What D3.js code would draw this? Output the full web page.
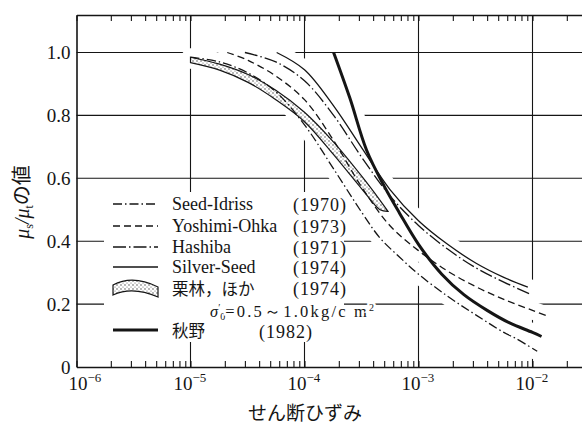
<!DOCTYPE html>
<html><head><meta charset="utf-8">
<script src="https://cdn.jsdelivr.net/npm/d3@7"></script>
<style>
html,body{margin:0;padding:0;background:#fff;}
svg{display:block;}
</style></head>
<body>
<svg id="chart" width="582" height="427"></svg>
<script>
// Shear modulus ratio μs/μt versus shear strain γ, [strain, ratio]
const seedIdriss = [[1e-5,0.985],[1.8e-5,0.97],[3.2e-5,0.935],[5.6e-5,0.875],[1e-4,0.77],[1.8e-4,0.63],[3.2e-4,0.49],[4.6e-4,0.41],[6.8e-4,0.35],[1e-3,0.295],[1.8e-3,0.225],[3.2e-3,0.165],[5.6e-3,0.11],[7.2e-3,0.09],[1.1e-2,0.05]];
const yoshimiOhka = [[2.1e-5,1.0],[3.2e-5,0.975],[5.6e-5,0.925],[1e-4,0.85],[1.8e-4,0.72],[3.2e-4,0.57],[5.6e-4,0.45],[1e-3,0.37],[1.8e-3,0.305],[3.2e-3,0.255],[5.6e-3,0.215],[1e-2,0.18],[1.4e-2,0.16]];
const hashiba = [[3e-5,1.0],[5.6e-5,0.97],[1e-4,0.91],[1.8e-4,0.80],[3.2e-4,0.665],[5.6e-4,0.545],[1e-3,0.45],[1.8e-3,0.375],[3.2e-3,0.315],[5.6e-3,0.27],[9.5e-3,0.232]];
const silverSeed = [[5.7e-5,1.0],[1e-4,0.945],[1.8e-4,0.83],[3.2e-4,0.695],[5.6e-4,0.565],[1e-3,0.465],[1.8e-3,0.39],[3.2e-3,0.33],[5.6e-3,0.285],[9.1e-3,0.254]];
const akino = [[1.8e-4,1.0],[2.5e-4,0.855],[3.5e-4,0.69],[5e-4,0.575],[6.8e-4,0.49],[1e-3,0.39],[1.6e-3,0.295],[2.5e-3,0.23],[4e-3,0.18],[6.3e-3,0.14],[1e-2,0.11],[1.2e-2,0.097]];
// 栗林ほか band: strain, upper bound, lower bound
const kuribayashiStrain = [1e-5,1.8e-5,3.2e-5,5.6e-5,1e-4,1.8e-4,3.2e-4,4.6e-4,5.4e-4];
const kuribayashiUpper  = [0.985,0.963,0.93,0.88,0.81,0.715,0.605,0.53,0.495];
const kuribayashiLower  = [0.968,0.944,0.905,0.85,0.78,0.675,0.565,0.5,0.495];

const xDecades = [1e-6,1e-5,1e-4,1e-3,1e-2];
const xExponents = ["−6","−5","−4","−3","−2"];
const yTicks = [0,0.2,0.4,0.6,0.8,1.0];
const yTickLabels = ["0","0.2","0.4","0.6","0.8","1.0"];
const legendNames = ["Seed-Idriss","Yoshimi-Ohka","Hashiba","Silver-Seed","栗林，ほか","秋野"];
const legendYears = ["(1970)","(1973)","(1971)","(1974)","(1974)","(1982)"];

const SERIF = '"Liberation Serif", "DejaVu Serif", serif';
const JP = '"Noto Sans CJK JP", "Noto Sans CJK SC", sans-serif';

const svg = d3.select("#chart");
const L = 76.5, T = 15, B = 367, R = 582, decade = 114;

const x = d3.scaleLog().domain([1e-6, Math.pow(10, -6 + (R - L) / decade)]).range([L, R]);
const y = d3.scaleLinear().domain([0, (B - T) / 314.5]).range([B, T]);

const ink = "#151515";

const defs = svg.append("defs");
// stipple for the band
const pat = defs.append("pattern").attr("id","dots").attr("patternUnits","userSpaceOnUse")
  .attr("width",4).attr("height",4);
pat.append("circle").attr("cx",1).attr("cy",1).attr("r",0.65).attr("fill","#333");
pat.append("circle").attr("cx",3).attr("cy",3).attr("r",0.55).attr("fill","#555");
// keeps the 1.0 grid line intact where the 秋野 curve begins on it
defs.append("clipPath").attr("id","belowTop").append("rect")
  .attr("x", 0).attr("y", y(0.96)).attr("width", 582).attr("height", 427);

// grid
const grid = svg.append("g").attr("stroke", ink).attr("stroke-width", 1.1);
grid.selectAll("line.h").data(yTicks.filter(d => d > 0)).join("line")
  .attr("x1", L).attr("x2", R).attr("y1", d => y(d)).attr("y2", d => y(d));
grid.selectAll("line.v").data(xDecades.slice(1)).join("line")
  .attr("x1", d => x(d)).attr("x2", d => x(d)).attr("y1", T).attr("y2", B);

// curve definitions
const line = d3.line().x(d => x(d[0])).y(d => y(d[1])).curve(d3.curveCatmullRom.alpha(0.5));
const bandUpper = kuribayashiStrain.map((s,i) => [s, kuribayashiUpper[i]]);
const bandLower = kuribayashiStrain.map((s,i) => [s, kuribayashiLower[i]]);
const bandPath = line(bandUpper) + "L" + line(bandLower.slice().reverse()).slice(1) + "Z";

const series = [
  {data: seedIdriss, w: 1.3, dash: "9,3,1.5,3"},
  {data: yoshimiOhka, w: 1.3, dash: "7,4"},
  {data: hashiba, w: 1.3, dash: "13,3,1.5,3"},
  {data: silverSeed, w: 1.3, dash: null},
  {data: akino, w: 3, dash: null, clip: true}
];

// white clearance around curves
const halo = svg.append("g").attr("fill","none").attr("stroke","#fff").attr("stroke-width",18)
  .attr("stroke-linecap","round").attr("stroke-linejoin","round");
series.forEach(s => halo.append("path").attr("d", line(s.data))
  .attr("clip-path", s.clip ? "url(#belowTop)" : null));
halo.append("path").attr("d", bandPath).attr("stroke-width", 12);

// legend background
svg.append("rect").attr("x",104).attr("y",192).attr("width",240).attr("height",150).attr("fill","#fff");

// band
svg.append("path").attr("d", bandPath).attr("fill","url(#dots)").attr("stroke", ink).attr("stroke-width",1.2);

// curves
const curves = svg.append("g").attr("fill","none").attr("stroke", ink);
series.forEach(s => curves.append("path").attr("d", line(s.data))
  .attr("stroke-width", s.w).attr("stroke-dasharray", s.dash));

// axes
const minor = [];
for (let e = -6; e <= -2; e++) for (let m = 1; m <= 9; m++) {
  const v = m * Math.pow(10, e);
  if (v <= x.domain()[1]) minor.push(v);
}
const axB = svg.append("g").attr("transform",`translate(0,${B})`)
  .call(d3.axisBottom(x).tickValues(minor).tickSizeInner(-6).tickSizeOuter(0).tickFormat(""));
const axT = svg.append("g").attr("transform",`translate(0,${T})`)
  .call(d3.axisTop(x).tickValues(minor).tickSizeInner(-6).tickSizeOuter(0).tickFormat(""));
const axL = svg.append("g").attr("transform",`translate(${L},0)`)
  .call(d3.axisLeft(y).tickValues(yTicks).tickSize(0).tickPadding(6).tickFormat((d,i) => yTickLabels[i]));
[axB, axT, axL].forEach(g => {
  g.select(".domain").attr("stroke", ink).attr("stroke-width", 1.6);
  g.selectAll(".tick line").attr("stroke", ink).attr("stroke-width", 1.1);
});
axL.attr("font-family", null).attr("font-size", null);
axL.selectAll(".tick text").style("font-family", SERIF).style("font-size","19px").attr("fill",ink).attr("dy","0.34em");

// x tick labels 10^n
const xl = svg.append("g").style("font-family", SERIF).attr("fill", ink);
xDecades.forEach((d,i) => {
  const cx = x(d) + (i === 0 ? 9 : 0);
  const t = xl.append("text").attr("x", cx - 17).attr("y", 390).style("font-size", "19px");
  t.append("tspan").text("10");
  t.append("tspan").style("font-size", "13px").attr("dy", -8).text(xExponents[i]);
});

// axis titles
svg.append("text").style("font-family", JP).attr("x", 305).attr("y", 420).attr("text-anchor","middle")
  .style("font-size", "19px").attr("fill", ink).text("せん断ひずみ");
const yt = svg.append("text").attr("transform","translate(29,202) rotate(-90)").attr("text-anchor","middle")
  .style("font-size", "20px").attr("fill", ink);
yt.append("tspan").style("font-family", SERIF).style("font-style","italic").text("μ");
yt.append("tspan").style("font-family", SERIF).style("font-size","12px").attr("dy",4).text("s");
yt.append("tspan").style("font-family", SERIF).style("font-style","italic").attr("dy",-4).text("/μ");
yt.append("tspan").style("font-family", SERIF).style("font-size","12px").attr("dy",4).text("t");
yt.append("tspan").style("font-family", JP).attr("dy",-4).text("の値");

// legend
const rows = [204, 226, 247, 267, 288, 330];
const lg = svg.append("g");
series.forEach((s, i) => {
  const ri = i < 4 ? i : 5;
  lg.append("line").attr("x1",113).attr("x2",158).attr("y1",rows[ri]).attr("y2",rows[ri])
    .attr("stroke", ink).attr("stroke-width", s.w).attr("stroke-dasharray", s.dash);
});
lg.append("path").attr("d","M113,285 C126,278 142,279 158,287 L158,297 C142,290 126,289 113,295 Z")
  .attr("fill","url(#dots)").attr("stroke", ink).attr("stroke-width",1.2);
legendNames.forEach((n, i) => {
  const isJp = /[^\x00-\x7F]/.test(n);
  lg.append("text").style("font-family", isJp ? JP : SERIF).attr("x",172).attr("y",rows[i] + (isJp ? 7 : 6))
    .style("font-size", isJp ? "16.5px" : "18px").attr("fill", ink).text(n);
  lg.append("text").style("font-family", SERIF).attr("x", i === 5 ? 259 : 293).attr("y", rows[i] + (i === 5 ? 8 : 7))
    .style("font-size", "18px").attr("letter-spacing", 1).attr("fill", ink).text(legendYears[i]);
});
const sg = lg.append("text").style("font-family", SERIF).attr("x",210).attr("y",317).style("font-size","16.5px")
  .attr("fill", ink).attr("stroke","#fff").attr("stroke-width",5).attr("paint-order","stroke");
sg.append("tspan").style("font-style","italic").text("σ");
sg.append("tspan").style("font-size","10px").attr("dy",-6).text("′");
sg.append("tspan").style("font-size","10px").attr("dy",9).text("0");
sg.append("tspan").attr("dy",-3).attr("letter-spacing",2.2).text("=0.5～1.0kg/c m");
sg.append("tspan").style("font-size","10px").attr("dy",-6).text("2");
</script>
</body></html>
